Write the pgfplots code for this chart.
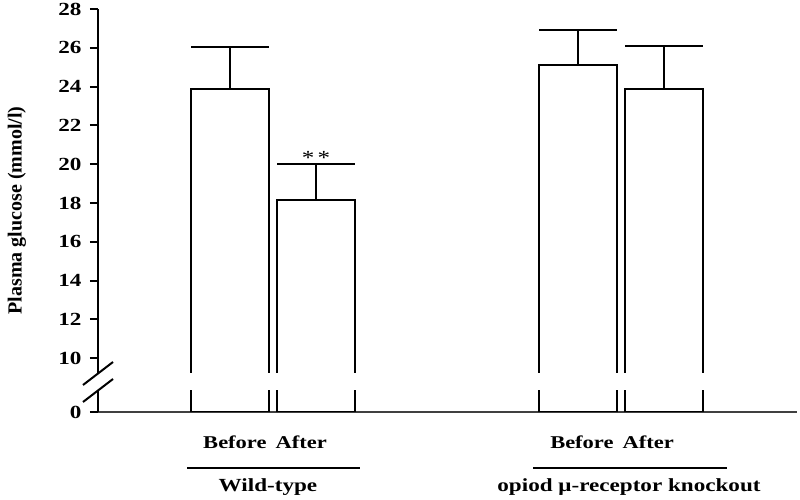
\documentclass[border=0pt]{standalone}
\usepackage{pgfplots}
\pgfplotsset{compat=1.18}
\usepackage{fontspec}
\setmainfont{Liberation Serif}
\newfontfamily\hfont[FakeStretch=1.25]{Liberation Serif}
\begin{document}
\begin{tikzpicture}
\useasboundingbox (-98pt,-88pt) rectangle (702pt,412pt);
\begin{axis}[
  at={(0pt,0pt)}, anchor=south west,
  scale only axis, width=699pt, height=403pt,
  xmin=-0.535, xmax=7.593,
  ymin=7.23, ymax=28,
  axis x line=bottom, axis y line=left,
  x axis line style={-, line width=1.5pt, black!75},
  y axis line style={-, line width=2pt},
  xtick=\empty,
  ytick={7.23,10,12,14,16,18,20,22,24,26,28},
  yticklabels={0,10,12,14,16,18,20,22,24,26,28},
  tick align=outside,
  major tick length=8pt,
  ytick style={line width=2pt, black},
  yticklabel style={font=\hfont\bfseries\fontsize{18.5}{18.5}\selectfont, xshift=-5pt},
  clip=true,
]
\addplot[ybar, bar width=0.907, fill=white, draw=black, line width=2pt,
  error bars/.cd, y dir=plus, y explicit, error mark=|,
  error bar style={line width=2pt, black},
  error mark options={mark size=39pt, line width=2pt, black}]
  coordinates {
    (1,23.90) +- (0,2.15)
    (2,18.15) +- (0,1.86)
    (5.05,25.11) +- (0,1.81)
    (6.05,23.86) +- (0,2.23)
  };
\node[anchor=base, font=\hfont\fontsize{20}{20}\selectfont] at (axis cs:2,20.01) {*\,*};
\end{axis}
% axis break
\fill[white] (-4pt,22pt) rectangle (705pt,39pt);
\draw[line width=2pt] (-15pt,27pt) -- (15pt,50pt);
\draw[line width=2pt] (-15pt,10pt) -- (15pt,33pt);
% y label
\node[rotate=90, font=\bfseries\fontsize{20}{20}\selectfont] at (-81pt,201.5pt) {Plasma glucose (mmol/l)};
% group labels
\node[anchor=base, font=\hfont\bfseries\fontsize{18}{18}\selectfont] at (167pt,-37pt) {Before\hspace{9pt}After};
\draw[line width=2pt] (89pt,-56pt) -- (262pt,-56pt);
\node[anchor=base, font=\hfont\bfseries\fontsize{18.5}{18.5}\selectfont] at (170pt,-79pt) {Wild-type};
\node[anchor=base, font=\hfont\bfseries\fontsize{18}{18}\selectfont] at (514pt,-37pt) {Before\hspace{9pt}After};
\draw[line width=2pt] (435pt,-56pt) -- (629pt,-56pt);
\node[anchor=base, font=\hfont\bfseries\fontsize{18.5}{18.5}\selectfont] at (531pt,-79pt) {opiod μ-receptor knockout};
\end{tikzpicture}
\end{document}
